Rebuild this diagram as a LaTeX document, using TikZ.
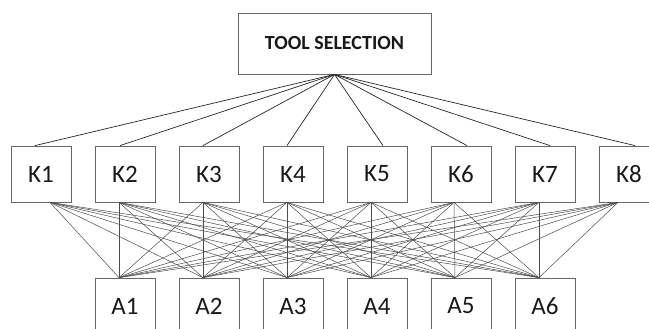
\documentclass[tikz,border=0pt]{standalone}
\usepackage{fontspec}
\setmainfont{Carlito}
\begin{document}
\begin{tikzpicture}[x=1pt,y=-1pt,
  box/.style={draw=black!60, line width=0.8pt, minimum width=60pt, minimum height=56pt, inner sep=0pt, font=\fontsize{25}{25}\selectfont, text=black!90},
  topbox/.style={draw=black!60, line width=0.8pt, minimum width=193pt, minimum height=61pt, inner sep=0pt, font=\fontsize{20}{20}\selectfont\bfseries, text=black!90},
  topline/.style={draw=black!85, line width=0.7pt},
  kline/.style={draw=black!70, line width=0.5pt}]
\clip (0,0) rectangle (649,329);
\node[topbox] (T) at (334.5,43.5) {TOOL SELECTION};
\foreach \i/\x in {1/41,2/125,3/209,4/293,5/377,6/461,7/545,8/629}
  \node[box] (K\i) at (\x,174) {K\i};
\foreach \i/\x in {1/125,2/209,3/293,4/377,5/461,6/545}
  \node[box] (A\i) at (\x,306) {A\i};
\foreach \i/\o in {1/-6,2/-5,3/-6,4/-6,5/6,6/6,7/5,8/6}
  \draw[topline] (T.south) -- ([xshift=\o pt]K\i.north);
\foreach \i/\o in {1/9,2/-6,3/-6,4/-6,5/-6,6/-7,7/-6,8/-11}
  \foreach \j in {1,...,6}
    \draw[kline] ([xshift=\o pt]K\i.south) -- ([xshift=-6pt]A\j.north);
\end{tikzpicture}
\end{document}
